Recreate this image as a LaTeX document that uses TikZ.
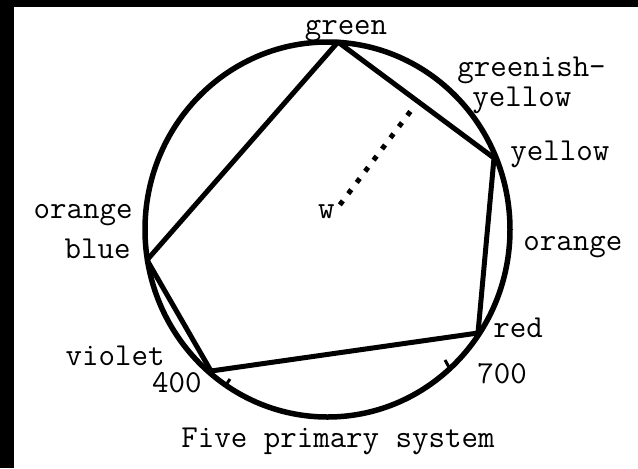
\documentclass[tikz,border=0pt]{standalone}
\usetikzlibrary{calc}

\tikzset{
	lbl/.style = {font=\fontsize{16}{18}\selectfont\ttfamily, inner sep=0pt},
	side/.style = {line width=2.5pt, line join=round},
	tick/.style = {line width=1.5pt},
	dotsline/.style = {line width=2.5pt, dash pattern=on 2.5pt off 4.5pt},
}

\begin{document}
\begin{tikzpicture}[x=0.5pt, y=-0.5pt]
	\useasboundingbox (0, 0) rectangle (638, 468);
	\fill (0, 0) rectangle (638, 7);
	\fill (0, 0) rectangle (14, 468);

	\draw[line width=2.75pt] (327.5, 229.5) ellipse [x radius=182.5, y radius=187.5];

	\coordinate (G) at (338, 42);
	\coordinate (Y) at (494, 158);
	\coordinate (R) at (478, 333);
	\coordinate (V) at (211, 371);
	\coordinate (B) at (147, 260);
	\draw[side] (G) -- (Y) -- (R) -- (V) -- (B) -- cycle;

	\draw[tick] (226, 385) -- ++(4, -6);
	\draw[tick] (450, 369) -- ++(-5, -9);

	\node[lbl, anchor=base] (lgreen) at (346, 34) {green};
	\node[lbl, anchor=base west] (lgy1) at (457, 76) {greenish-};
	\node[lbl, anchor=base west] (lgy2) at (472, 106) {yellow};
	\node[lbl, anchor=base west] (lyellow) at (510, 160) {yellow};
	\node[lbl, anchor=base west] (lorange2) at (523, 250) {orange};
	\node[lbl, anchor=base east] (lorange1) at (133, 218) {orange};
	\node[lbl, anchor=base east] (lblue) at (131, 258) {blue};
	\node[lbl, anchor=base east] (lviolet) at (165, 365) {violet};
	\node[lbl, anchor=base east] (l400) at (202, 392) {400};
	\node[lbl, anchor=base west] (lred) at (493, 337) {red};
	\node[lbl, anchor=base west] (l700) at (477, 383) {700};
	\node[lbl, anchor=base east] (w) at (335, 218) {w};
	\node[lbl, anchor=base] (title) at (338, 447) {Five primary system};

	\coordinate (wtip) at (413, 108);
	\draw[dotsline, shorten <=4pt] (w.east) -- (wtip);
\end{tikzpicture}
\end{document}
